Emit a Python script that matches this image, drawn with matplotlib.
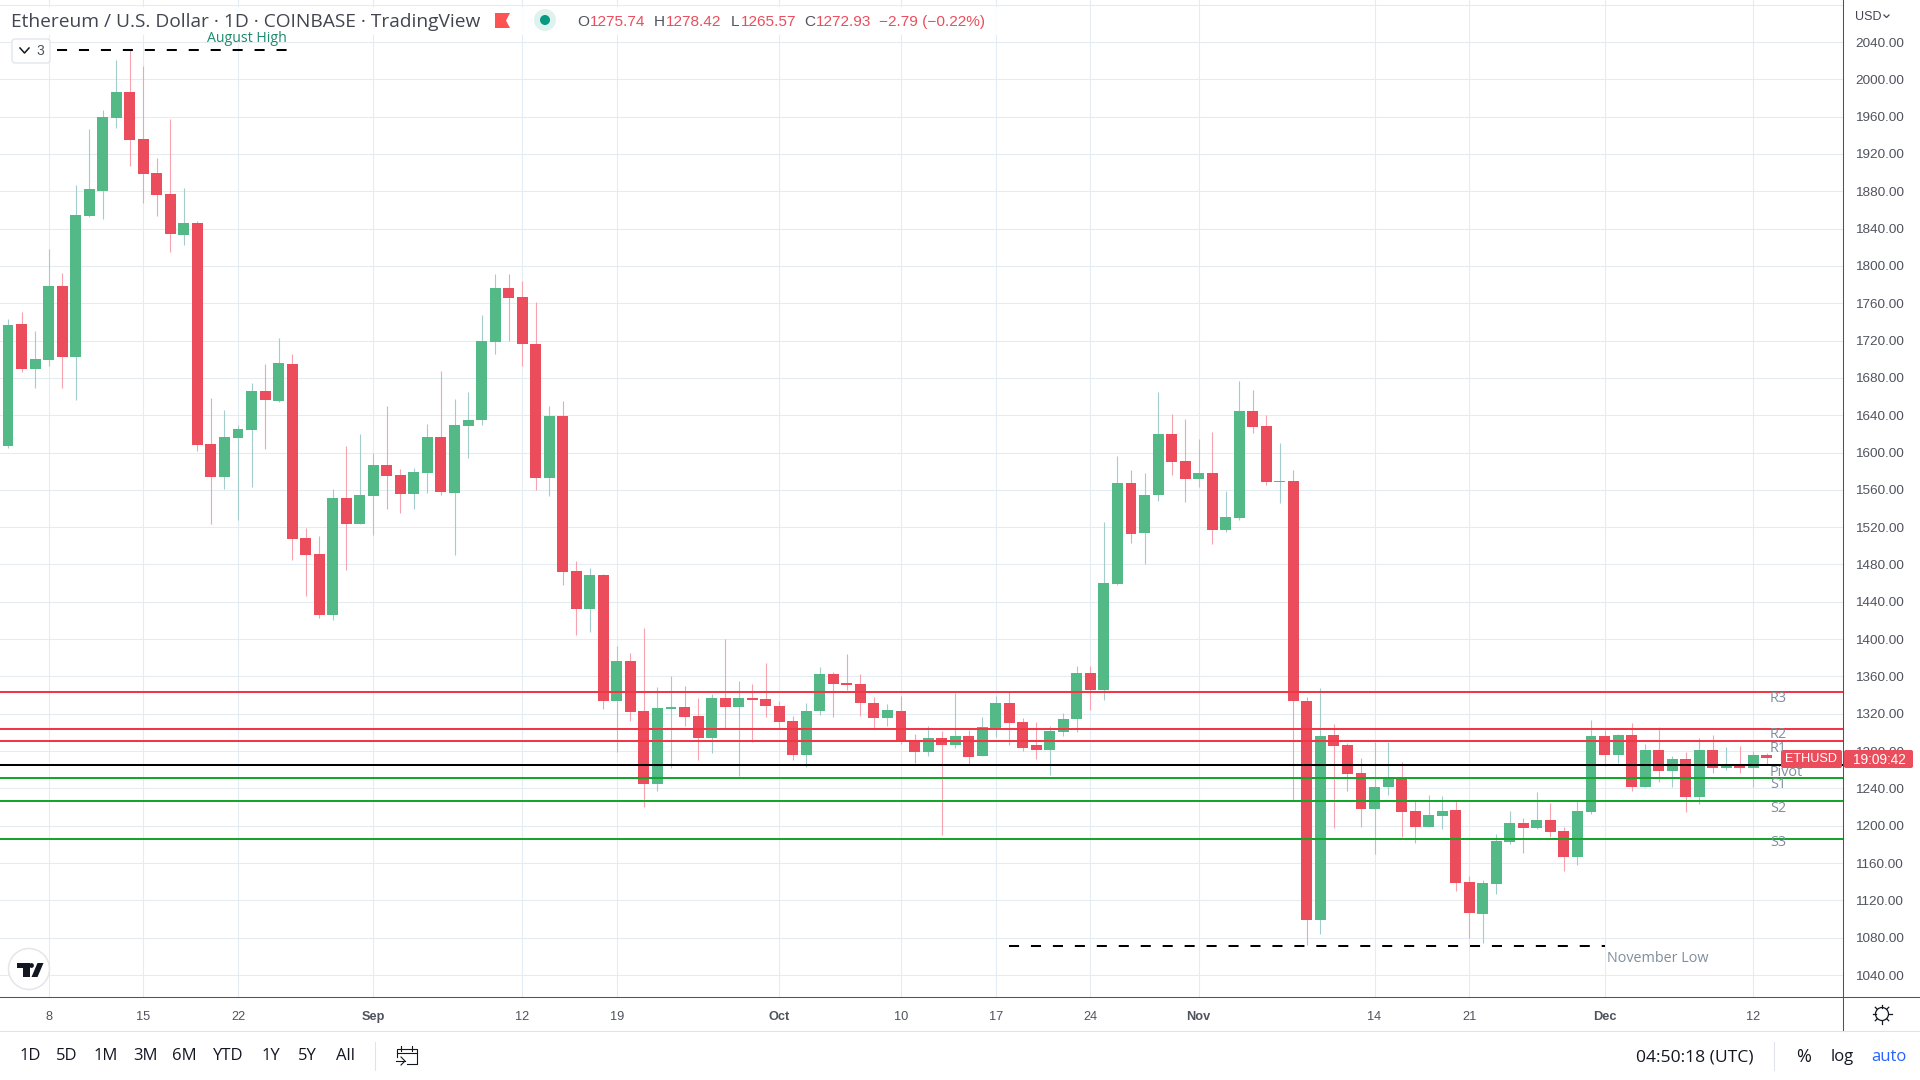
import matplotlib
matplotlib.use('Agg')
import matplotlib.pyplot as plt
import numpy as np
from matplotlib.patches import Circle, FancyBboxPatch, Polygon, Rectangle

plt.rcParams['font.family'] = ['Liberation Sans', 'DejaVu Sans']

# days counted from Aug 8
first_day = -3
opens = [1607, 1738, 1690, 1699, 1778, 1702, 1854, 1880, 1959, 1986, 1936, 1900, 1877, 1833, 1846,
         1609, 1574, 1616, 1624, 1666, 1655, 1695, 1508, 1491, 1426, 1551, 1523, 1553, 1587, 1576,
         1556, 1578, 1617, 1557, 1628, 1635, 1718, 1776, 1767, 1716, 1573, 1639, 1473, 1432, 1469,
         1334, 1377, 1323, 1245, 1325, 1327, 1318, 1294, 1337, 1327, 1337, 1336, 1328, 1312, 1276,
         1323, 1363, 1353, 1352, 1332, 1315, 1323, 1290, 1279, 1294, 1286, 1296, 1275, 1305, 1332,
         1311, 1286, 1281, 1300, 1314, 1364, 1345, 1459, 1567, 1514, 1554, 1620, 1591, 1572, 1578,
         1517, 1530, 1645, 1628, 1568, 1569, 1334, 1099, 1297, 1286, 1256, 1218, 1241, 1251, 1216,
         1199, 1210, 1217, 1140, 1105, 1138, 1183, 1203, 1198, 1206, 1194, 1167, 1215, 1296, 1276,
         1297, 1241, 1281, 1259, 1272, 1231, 1281, 1262, 1265, 1262, 1275.74]
highs = [1743, 1751, 1730, 1818, 1792, 1887, 1947, 1967, 2021, 2032, 2014, 1916, 1958, 1884, 1848,
         1658, 1646, 1629, 1674, 1695, 1723, 1706, 1519, 1511, 1561, 1607, 1620, 1600, 1650, 1582,
         1583, 1631, 1687, 1657, 1665, 1747, 1791, 1791, 1784, 1761, 1650, 1655, 1484, 1476, 1470,
         1393, 1385, 1412, 1349, 1361, 1350, 1337, 1341, 1400, 1355, 1352, 1374, 1334, 1318, 1331,
         1370, 1365, 1384, 1363, 1338, 1330, 1339, 1298, 1307, 1302, 1342, 1303, 1316, 1339, 1343,
         1315, 1311, 1307, 1321, 1371, 1371, 1526, 1596, 1581, 1578, 1665, 1641, 1636, 1614, 1622,
         1559, 1677, 1667, 1640, 1610, 1581, 1338, 1348, 1309, 1289, 1273, 1290, 1290, 1268, 1226,
         1233, 1232, 1226, 1146, 1142, 1191, 1216, 1208, 1236, 1224, 1199, 1226, 1313, 1303, 1298,
         1310, 1288, 1306, 1275, 1279, 1294, 1297, 1284, 1285, 1280, 1278.42]
lows = [1605, 1686, 1669, 1693, 1669, 1656, 1852, 1850, 1948, 1907, 1867, 1854, 1815, 1822, 1602,
        1523, 1561, 1528, 1563, 1604, 1654, 1485, 1446, 1423, 1420, 1474, 1523, 1512, 1540, 1535,
        1540, 1557, 1554, 1490, 1594, 1630, 1706, 1719, 1693, 1560, 1553, 1458, 1404, 1408, 1325,
        1279, 1312, 1220, 1237, 1262, 1307, 1270, 1278, 1305, 1253, 1290, 1316, 1304, 1270, 1263,
        1319, 1317, 1346, 1318, 1305, 1307, 1288, 1267, 1275, 1190, 1283, 1266, 1275, 1295, 1287,
        1280, 1271, 1254, 1296, 1300, 1324, 1335, 1458, 1503, 1480, 1548, 1576, 1547, 1563, 1502,
        1515, 1528, 1621, 1565, 1546, 1228, 1072, 1084, 1198, 1237, 1199, 1170, 1233, 1188, 1182,
        1199, 1197, 1130, 1080, 1074, 1127, 1180, 1171, 1196, 1188, 1151, 1158, 1213, 1264, 1267,
        1237, 1241, 1247, 1242, 1215, 1223, 1256, 1260, 1256, 1241, 1265.57]
closes = [1737, 1689, 1700, 1778, 1702, 1855, 1882, 1960, 1986, 1935, 1899, 1876, 1834, 1846, 1608,
          1574, 1617, 1625, 1666, 1656, 1696, 1507, 1490, 1426, 1551, 1523, 1554, 1587, 1575, 1556,
          1579, 1617, 1558, 1630, 1635, 1720, 1776, 1766, 1716, 1573, 1639, 1472, 1432, 1469, 1334,
          1377, 1322, 1245, 1326, 1327, 1317, 1294, 1337, 1327, 1337, 1335, 1328, 1311, 1276, 1323,
          1363, 1352, 1351, 1331, 1315, 1324, 1290, 1279, 1294, 1287, 1296, 1274, 1306, 1332, 1310,
          1283, 1281, 1301, 1314, 1364, 1345, 1460, 1567, 1513, 1555, 1620, 1590, 1572, 1578, 1517,
          1531, 1645, 1627, 1568, 1569, 1334, 1099, 1296, 1285, 1255, 1218, 1242, 1252, 1215, 1199,
          1212, 1216, 1139, 1106, 1139, 1184, 1203, 1198, 1206, 1193, 1167, 1216, 1296, 1276, 1297,
          1241, 1281, 1259, 1272, 1231, 1281, 1262, 1263, 1262, 1276, 1272.93]

pivot_names = ['R3', 'R2', 'R1', 'Pivot', 'S1', 'S2', 'S3']
pivot_values = [1343.5, 1304, 1290.3, 1265, 1251, 1226.5, 1186.3]
pivot_colors = ['#f23645', '#f23645', '#f23645', '#000000', '#14a52a', '#14a52a', '#14a52a']
pivot_label_y = [699, 735, 749, 772, 785, 808, 843]

price_ticks = list(range(1040, 2081, 40))
date_ticks = [0, 7, 14, 24, 35, 42, 54, 63, 70, 77, 85, 98, 105, 115, 126]
date_labels = ['8', '15', '22', 'Sep', '12', '19', 'Oct', '10', '17', '24', 'Nov', '14', '21', 'Dec', '12']
range_buttons = ['1D', '5D', '1M', '3M', '6M', 'YTD', '1Y', '5Y', 'All']
range_x = [30, 67, 106, 145, 184, 228, 271, 307, 345]

up_col = '#53b987'
down_col = '#eb4d5c'
up_wick = '#a3cdcd'
down_wick = '#f7a3af'
grid_col = '#e3ecf2'
axis_col = '#50535e'
label_col = '#7f8e9d'

W, H = 1920, 1080
right_px, bottom_px = 1843, 997
px_per_day = 13.53
x0_px = 48.6
# 2040 sits at y=42 and 1040 at y=975
px_per_usd = 0.933

fig = plt.figure(figsize=(19.2, 10.8), dpi=100, facecolor='white')
ax = fig.add_axes([0, 1 - bottom_px / H, right_px / W, bottom_px / H])
ax.set_xlim(-x0_px / px_per_day, (right_px - x0_px) / px_per_day)
ax.set_ylim(2040 - (bottom_px - 42) / px_per_usd, 2040 + 42 / px_per_usd)

ax.set_axisbelow(True)
ax.grid(True, color=grid_col, lw=0.75)
ax.spines['top'].set_visible(False)
ax.spines['left'].set_visible(False)
ax.spines['right'].set_visible(False)
ax.spines['bottom'].set_visible(False)

ax.yaxis.tick_right()
ax.set_yticks(price_ticks)
ax.set_yticklabels(['%.2f' % p if p < 2080 else '' for p in price_ticks])
ax.tick_params(axis='y', length=0, pad=9, labelsize=9.7, labelcolor=axis_col)
ax.set_xticks(date_ticks)
ax.set_xticklabels(date_labels)
ax.tick_params(axis='x', length=0, pad=10, labelsize=9.2, labelcolor=axis_col)
for lab in ax.get_xticklabels():
    if lab.get_text() in ('Sep', 'Oct', 'Nov', 'Dec'):
        lab.set_fontweight('bold')

days = np.arange(first_day, first_day + len(opens))
o = np.array(opens)
h = np.array(highs)
l = np.array(lows)
c = np.array(closes)
up = c >= o

ax.vlines(days[up], l[up], h[up], color=up_wick, lw=0.8, zorder=2)
ax.vlines(days[~up], l[~up], h[~up], color=down_wick, lw=0.8, zorder=2)
body = np.maximum(np.abs(c - o), 1.5)
ax.bar(days, body, bottom=np.minimum(o, c), width=0.81,
       color=[up_col if u else down_col for u in up], zorder=3)

for val, col in zip(pivot_values, pivot_colors):
    ax.axhline(val, color=col, lw=1.45, zorder=4)

# dashed markers
ax.plot([0.6, 17.6], [2031.5, 2031.5], color='black', lw=1.45, ls=(0, (5, 5.9)), zorder=5)
ax.plot([71, 115], [1071, 1071], color='black', lw=1.45, ls=(0, (5, 5.9)), zorder=5)

# everything else goes on a full figure overlay in pixel coordinates
ui = fig.add_axes([0, 0, 1, 1], facecolor='none')
ui.set_xlim(0, W)
ui.set_ylim(H, 0)
ui.axis('off')

ui.add_patch(Rectangle((0, 7), 1000, 28, fc='white', ec='none', alpha=0.92, zorder=1))
ui.text(11, 22, 'Ethereum / U.S. Dollar · 1D · COINBASE · TradingView', fontsize=13.75,
        color='#434651', va='center', ha='left', family='Open Sans')
ui.add_patch(Polygon([(495, 13), (510, 13), (506, 20.5), (510, 28), (495, 28)], fc='#ff5252', ec='none', zorder=2))
ui.add_patch(Circle((545, 20), 11, fc='#dff2ee', ec='none', zorder=2))
ui.add_patch(Circle((545, 20), 5, fc='#089981', ec='none', zorder=3))

hdr = [(577, 'O', axis_col), (590, '1275.74', down_col), (654, 'H', axis_col), (666, '1278.42', down_col),
       (731, 'L', axis_col), (741, '1265.57', down_col), (804, 'C', axis_col), (816, '1272.93', down_col),
       (879, '−2.79 (−0.22%)', down_col)]
for x, s, col in hdr:
    ui.text(x, 22, s, fontsize=11.1, color=col, va='center', ha='left')

ui.text(247, 39, 'August High', fontsize=10.2, color='#1f8a6d', va='center', ha='center', family='Open Sans')
ui.text(1607, 959, 'November Low', fontsize=10.4, color=label_col, va='center', ha='left', family='Open Sans')

# collapse button
ui.add_patch(FancyBboxPatch((12, 39), 38, 24, boxstyle='round,pad=0,rounding_size=3', fc='white', ec='#dfe3ea', lw=0.9))
ui.plot([20, 24.5, 29], [48, 53, 48], color='#131722', lw=1.1)
ui.text(40, 51, '3', fontsize=10, color=axis_col, va='center', ha='center')

for name, y in zip(pivot_names, pivot_label_y):
    ui.text(1770, y, name, fontsize=10.4, color=label_col, va='center', ha='left', family='Open Sans')

# TV logo
ui.add_patch(Circle((29, 969), 20.5, fc='white', ec='#e4e6ea', lw=1.1))
ui.add_patch(Polygon([(16.5, 963), (29.5, 963), (29.5, 977), (23, 977), (23, 968), (16.5, 968)], fc='#131722', ec='none'))
ui.add_patch(Circle((31.5, 965.5), 2.4, fc='#131722', ec='none'))
ui.add_patch(Polygon([(37.5, 963), (43.5, 963), (37.5, 977), (31.5, 977)], fc='#131722', ec='none'))

# price tag
ui.add_patch(FancyBboxPatch((1781, 750), 61, 18, boxstyle='round,pad=0,rounding_size=2', fc=down_col, ec='none'))
ui.add_patch(FancyBboxPatch((1844, 750), 69, 18, boxstyle='round,pad=0,rounding_size=2', fc=down_col, ec='none'))
ui.text(1811, 759.5, 'ETHUSD', fontsize=9.1, color='white', va='center', ha='center')
ui.text(1879, 759.5, '19:09:42', fontsize=9.8, color='white', va='center', ha='center')

ui.text(1855, 17, 'USD', fontsize=9, color='#434651', va='center', ha='left')
ui.plot([1884, 1886.5, 1889], [15, 17.5, 15], color='#434651', lw=0.9)

# frame lines
ui.plot([0, W], [bottom_px, bottom_px], color=axis_col, lw=0.75)
ui.plot([right_px, right_px], [0, 1031], color=axis_col, lw=0.75)
ui.plot([0, W], [1031, 1031], color='#e0e3eb', lw=0.75)
ui.plot([375, 375], [1042, 1070], color='#e0e3eb', lw=0.75)
ui.plot([1774, 1774], [1042, 1070], color='#e0e3eb', lw=0.75)

for x, s in zip(range_x, range_buttons):
    ui.text(x, 1056.5, s, fontsize=12, color='#131722', va='center', ha='center', family='Open Sans')
ui.text(1695, 1057, '04:50:18 (UTC)', fontsize=12.6, color='#131722', va='center', ha='center', family='Open Sans')
ui.text(1804, 1057, '%', fontsize=13, color='#131722', va='center', ha='center', family='Open Sans')
ui.text(1842, 1057, 'log', fontsize=12, color='#131722', va='center', ha='center', family='Open Sans')
ui.text(1889, 1057, 'auto', fontsize=12, color='#2962ff', va='center', ha='center', family='Open Sans')

# calendar icon
ui.plot([397, 397, 417, 417, 407], [1057, 1049, 1049, 1064, 1064], color='#131722', lw=0.8)
ui.plot([397, 417], [1053, 1053], color='#131722', lw=0.8)
ui.plot([401, 401], [1046, 1051], color='#131722', lw=0.8)
ui.plot([412, 412], [1046, 1051], color='#131722', lw=0.8)
ui.plot([396, 405], [1061, 1061], color='#131722', lw=0.8)
ui.plot([401, 405, 401], [1057, 1061, 1065], color='#131722', lw=0.8)

# settings icon
ui.add_patch(Circle((1882, 1014), 6.5, fc='none', ec='#131722', lw=0.9))
for a in np.deg2rad(np.arange(0, 360, 45)):
    ui.plot([1882 + 6.5 * np.cos(a), 1882 + 9.5 * np.cos(a)],
            [1014 + 6.5 * np.sin(a), 1014 + 9.5 * np.sin(a)], color='#131722', lw=0.9)

ui.set_xlim(0, W)
ui.set_ylim(H, 0)

fig.savefig('out.png', dpi=100)
